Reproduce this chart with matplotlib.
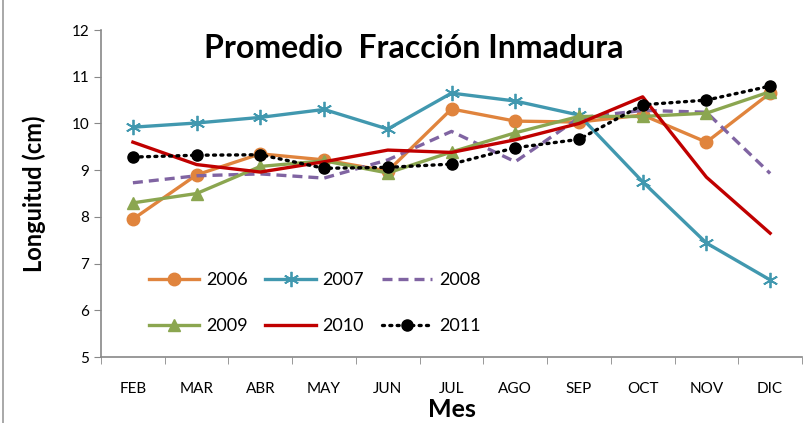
import matplotlib.pyplot as plt
from matplotlib.lines import Line2D

months = ['FEB', 'MAR', 'ABR', 'MAY', 'JUN', 'JUL', 'AGO', 'SEP', 'OCT', 'NOV', 'DIC']
y2006 = [7.95, 8.9, 9.35, 9.22, 8.98, 10.31, 10.05, 10.03, 10.18, 9.6, 10.65]
y2007 = [9.92, 10.01, 10.13, 10.3, 9.88, 10.65, 10.48, 10.18, 8.75, 7.44, 6.65]
y2008 = [8.73, 8.88, 8.92, 8.83, 9.22, 9.83, 9.18, 10.12, 10.28, 10.24, 8.93]
y2009 = [8.3, 8.5, 9.08, 9.2, 8.94, 9.39, 9.8, 10.15, 10.15, 10.22, 10.68]
y2010 = [9.6, 9.12, 8.96, 9.18, 9.43, 9.38, 9.65, 10.0, 10.57, 8.85, 7.65]
y2011 = [9.28, 9.32, 9.33, 9.04, 9.06, 9.13, 9.48, 9.66, 10.4, 10.5, 10.8]

plt.rcParams['font.family'] = ['Lato', 'DejaVu Sans']

fig = plt.figure(figsize=(8.07, 4.23), dpi=100)
ax = fig.add_axes([0.1252, 0.156, 0.8686, 0.773])
x = list(range(len(months)))

l06, = ax.plot(x, y2006, color='#E0843D', lw=2.4, marker='o', ms=9, label='2006')
l07, = ax.plot(x, y2007, color='#4198AF', lw=2.4, marker=(6, 2, 0), ms=11, mew=1.3, label='2007')
l08, = ax.plot(x, y2008, color='#8064A2', lw=2.4, ls=(0, (3, 1.8)), label='2008')
l09, = ax.plot(x, y2009, color='#8BA650', lw=2.4, marker='^', ms=9, label='2009')
l10, = ax.plot(x, y2010, color='#C00000', lw=2.4, label='2010')
l11, = ax.plot(x, y2011, color='black', lw=2.4, ls=(0, (0.6, 1.6)), marker='o', ms=8,
               dash_capstyle='round', label='2011')

ax.set_xlim(-0.5, len(months) - 0.5)
ax.set_ylim(5, 12)
ax.set_xticks(x)
ax.set_xticklabels(months, fontsize=11)
ax.set_xticks([i - 0.5 for i in range(len(months) + 1)], minor=True)
ax.tick_params(axis='x', which='major', length=0, pad=18)
ax.tick_params(axis='x', which='minor', length=5, color='#888888', direction='out')
ax.set_yticks(range(5, 13))
ax.tick_params(axis='y', labelsize=11, length=5, color='#888888')
for s in ['top', 'right']:
    ax.spines[s].set_visible(False)
for s in ['left', 'bottom']:
    ax.spines[s].set_color('#888888')
    ax.spines[s].set_linewidth(1.2)

ax.set_ylabel('Longuitud (cm)', fontsize=17, fontweight='bold')
ax.yaxis.set_label_coords(-0.078, 0.5)
ax.set_xlabel('Mes', fontsize=18, fontweight='bold')
ax.xaxis.set_label_coords(0.5, -0.124)

fig.text(0.513, 0.885, 'Promedio  Fracción Inmadura', fontsize=23, fontweight='bold',
         ha='center', va='center')

ax.legend([l06, l09, l07, l10, l08, l11], ['2006', '2009', '2007', '2010', '2008', '2011'],
          ncol=3, loc='lower left', bbox_to_anchor=(0.045, 0.02), frameon=False,
          fontsize=13, handlelength=2.8, columnspacing=1.0, labelspacing=1.65,
          handletextpad=0.35)

fig.add_artist(Line2D([0.004, 0.004], [0, 1], color='#999999', lw=1.2))

fig.savefig('out.png', dpi=100)
